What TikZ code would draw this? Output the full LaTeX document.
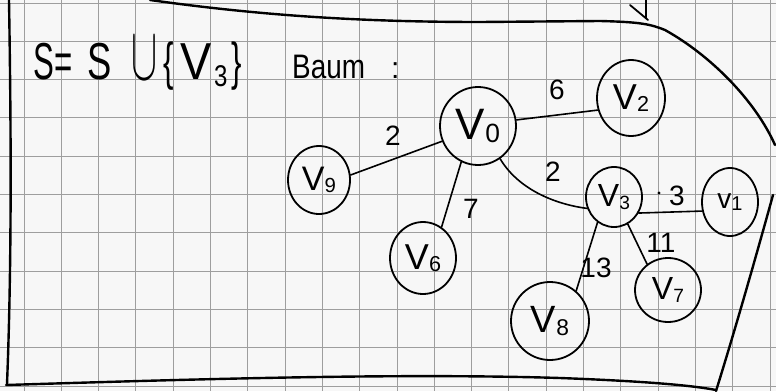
\documentclass[tikz,border=0pt]{standalone}
\usepackage{fontspec}
\setmainfont{Liberation Sans}
\usetikzlibrary{shapes.geometric}
\newcommand{\vlab}[3]{{\fontsize{#3}{#3}\selectfont V}\raisebox{-0.22em}{\fontsize{#3}{#3}\selectfont\scalebox{0.6}{#2}}}
\begin{document}
\begin{tikzpicture}[x=1pt,y=-1pt,
  gridline/.style={draw=black!38,line width=0.9pt},
  frame/.style={draw=black,line width=2.4pt,line cap=round},
  vtx/.style={ellipse,draw=black,line width=1.8pt,inner sep=0pt,fill=none},
  edge/.style={draw=black,line width=1.6pt,line cap=round},
  wt/.style={inner sep=0pt,font=\fontsize{28}{28}\selectfont},
  ttl/.style={anchor=base west,inner sep=0pt,font=\fontsize{52}{52}\selectfont}]
\useasboundingbox (0,0) rectangle (776,391);
\fill[white!97!black] (0,0) rectangle (776,391);
% grid
\foreach \k in {0,...,20} {\draw[gridline] ({24+37.3*\k},0) -- ({24+37.3*\k},391);}
\foreach \k in {0,...,10} {\draw[gridline] (0,{3+38.3*\k}) -- (776,{3+38.3*\k});}
% frame strokes
\draw[frame] (9,0) .. controls (11,120) and (12,260) .. (7,384);
\draw[frame] (6,385) .. controls (200,379) and (400,373) .. (560,378) .. controls (640,381) and (690,385) .. (716,390);
\draw[frame] (150,0) .. controls (250,14) and (350,22) .. (480,22) -- (600,21) .. controls (640,22) and (650,24) .. (665,30) .. controls (710,55) and (755,100) .. (775,145);
\draw[frame,line width=1.8pt] (630,5) -- (648,20);
\draw[frame,line width=1.8pt] (646,0) -- (646,18);
\draw[frame] (773,195) .. controls (755,260) and (735,330) .. (716,391);
% title
\node[ttl] (t1) at (33,79) {\scalebox{0.6}[1]{S=}};
\node[ttl] (t2) at (87,79) {\scalebox{0.7}[1]{S}};
\node[ttl,font=\normalsize] (t3) at (131,79) {\scalebox{3.9}[7.6]{$\cup$}};
\node[ttl] (t4) at (163,79) {\scalebox{0.6}[1]{\{}};
\node[ttl] (t4b) at (180,79) {\scalebox{0.9}[1]{V}};
\node[ttl,font=\fontsize{30}{30}\selectfont] (t5) at (214,86) {\scalebox{0.8}[1]{3}};
\node[ttl] (t6) at (231,79) {\scalebox{0.6}[1]{\}}};
\node[ttl,font=\fontsize{34}{34}\selectfont] (baum) at (292,78) {\scalebox{0.82}[1]{Baum}};
\node[ttl,font=\fontsize{30}{30}\selectfont] (colon) at (391,78) {:};
% vertices
\node[vtx,minimum width=76pt,minimum height=78pt] (v0) at (478,126) {\vlab{V}{0}{44}};
\node[vtx,minimum width=68pt,minimum height=76pt] (v2) at (631,98) {\vlab{V}{2}{36}};
\node[vtx,minimum width=56pt,minimum height=60pt] (v3) at (614,197) {\vlab{V}{3}{32}};
\node[vtx,minimum width=56pt,minimum height=68pt] (v1) at (730,202) {{\fontsize{28}{28}\selectfont v}\raisebox{-0.2em}{\fontsize{20}{20}\selectfont 1}};
\node[vtx,minimum width=62pt,minimum height=68pt] (v9) at (319,180) {\vlab{V}{9}{34}};
\node[vtx,minimum width=66pt,minimum height=72pt] (v6) at (423,258) {\vlab{V}{6}{36}};
\node[vtx,minimum width=78pt,minimum height=78pt] (v8) at (550,321) {\vlab{V}{8}{38}};
\node[vtx,minimum width=66pt,minimum height=64pt] (v7) at (668,290) {\vlab{V}{7}{32}};
% edges
\draw[edge] (v0.9) -- (v2.200);
\draw[edge] (v0.203) -- (v9.9);
\draw[edge] (v0.245) -- (v6.59);
\draw[edge] (v0.-56) .. controls (520,192) and (560,205) .. (v3.203);
\draw[edge] (v3.-33) -- (v1.198);
\draw[edge] (v3.-63) -- (v7.129);
\draw[edge] (v3.-123) -- (v8.49);
% weights
\node[wt] (w02) at (557,90) {6};
\node[wt] (w09) at (393,136) {2};
\node[wt] (w06) at (471,209) {7};
\node[wt] (w03) at (553,172) {2};
\node[wt] (w31) at (677,196) {3};
\fill (659,193) circle (1.6pt);
\node[wt] (w37) at (661,243) {11};
\node[wt] (w38) at (596,268) {13};
\end{tikzpicture}
\end{document}
